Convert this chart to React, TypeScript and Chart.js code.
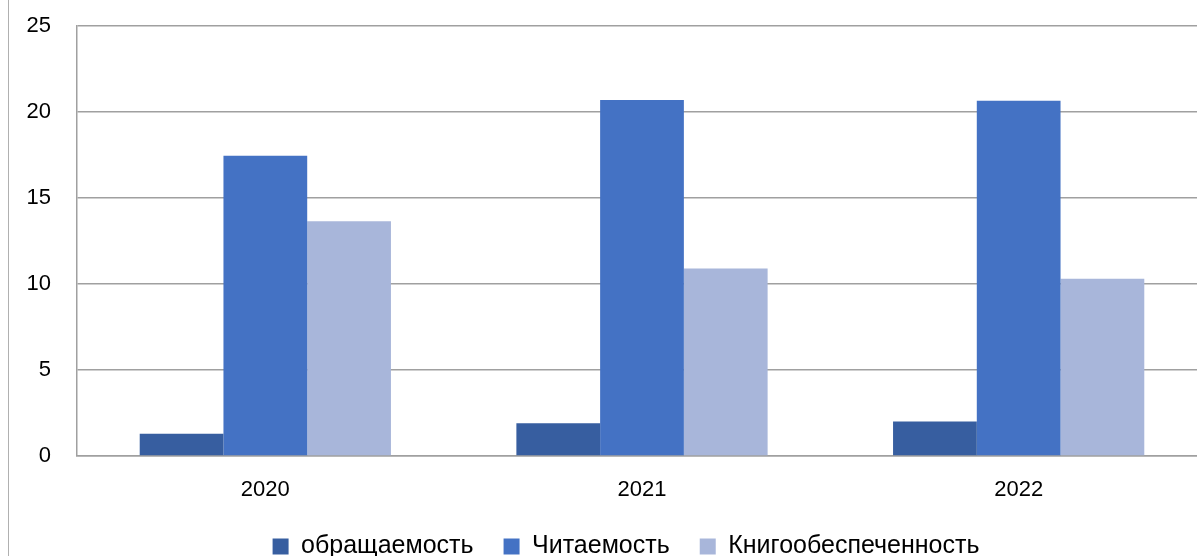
import React, { useEffect, useRef } from "react";
import { Chart, registerables } from "chart.js";

Chart.register(...registerables);

const categories = ["2020", "2021", "2022"];
const seriesNames = ["обращаемость", "Читаемость", "Книгообеспеченность"];
const obrashchaemost = [1.3, 1.9, 2.0];
const chitaemost = [17.45, 20.7, 20.65];
const knigoobespechennost = [13.65, 10.9, 10.3];
const seriesColors = ["#375EA0", "#4472C4", "#A8B6DA"];
const yTicks = [0, 5, 10, 15, 20, 25];

const FONT = "'Liberation Sans', Arial, sans-serif";

export default function App() {
  const ref = useRef<HTMLCanvasElement | null>(null);

  useEffect(() => {
    if (!ref.current) return;
    const values = [obrashchaemost, chitaemost, knigoobespechennost];
    const chart = new Chart(ref.current, {
      type: "bar",
      data: {
        labels: categories,
        datasets: values.map((v, i) => ({
          label: seriesNames[i],
          data: v,
          backgroundColor: seriesColors[i],
          borderWidth: 0,
          categoryPercentage: 0.667,
          barPercentage: 1,
        })),
      },
      options: {
        responsive: false,
        animation: false,
        devicePixelRatio: 1,
        layout: { padding: { top: 26, left: 36, right: 0, bottom: 0 } },
        plugins: {
          tooltip: { enabled: false },
          legend: {
            position: "bottom",
            labels: {
              font: { family: FONT, size: 25 },
              color: "#000000",
              boxWidth: 16,
              boxHeight: 16,
              padding: 30,
            },
          },
        },
        scales: {
          x: {
            grid: { display: false, drawTicks: false },
            border: { display: true, color: "#a0a0a0", width: 1.5 },
            ticks: {
              font: { family: FONT, size: 22 },
              color: "#000000",
              padding: 21,
            },
            afterFit: (scale: any) => {
              scale.height = 48;
            },
          },
          y: {
            min: 0,
            max: 25,
            afterBuildTicks: (scale: any) => {
              scale.ticks = yTicks.map((v) => ({ value: v }));
            },
            grid: { color: "#a0a0a0", lineWidth: 1.5, drawTicks: false },
            border: { display: true, color: "#a0a0a0", width: 1.5 },
            ticks: {
              font: { family: FONT, size: 22 },
              color: "#000000",
              mirror: true,
              crossAlign: "far",
              padding: -50.5,
            },
            afterFit: (scale: any) => {
              scale.width = 32;
            },
          },
        },
      },
    });
    return () => chart.destroy();
  }, []);

  return (
    <div
      style={{
        position: "absolute",
        left: 8,
        top: 0,
        width: 1189,
        height: 556,
        overflow: "hidden",
        boxSizing: "border-box",
        borderLeft: "1px solid #b0b0b0",
        background: "#ffffff",
      }}
    >
      <canvas ref={ref} width={1198} height={569} style={{ display: "block" }} />
    </div>
  );
}
